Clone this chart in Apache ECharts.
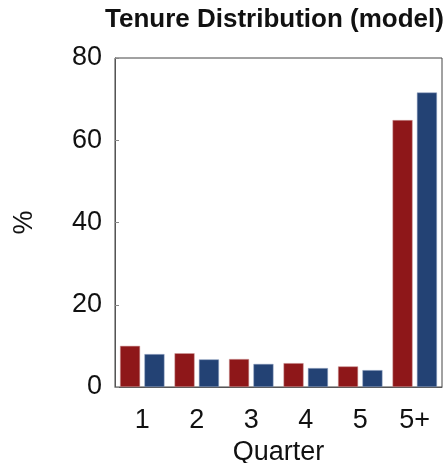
<!DOCTYPE html>
<html>
<head>
<meta charset="utf-8">
<script src="https://cdn.jsdelivr.net/npm/echarts@6/dist/echarts.min.js"></script>
<style>
html,body{margin:0;padding:0;background:#fff;}
#c{width:445px;height:463px;}
</style>
</head>
<body>
<div id="c"></div>
<script>
const categories = ['1', '2', '3', '4', '5', '5+'];
const seriesA = [10.0, 8.2, 6.8, 5.8, 5.0, 64.9];
const seriesB = [8.0, 6.7, 5.6, 4.6, 4.1, 71.6];
const yTicks = [0, 20, 40, 60, 80];

const FONT = 'Liberation Sans';
const chart = echarts.init(document.getElementById('c'));
chart.setOption({
  animation: false,
  backgroundColor: '#fff',
  title: {
    text: 'Tenure Distribution (model)',
    left: 100,
    top: 2,
    textStyle: { fontFamily: FONT, fontSize: 26, fontWeight: 'bold', color: '#111' }
  },
  grid: {
    left: 115, right: 3, top: 58, bottom: 76,
    outerBoundsMode: 'none',
    containLabel: false,
    show: true, borderColor: '#444', borderWidth: 1, backgroundColor: 'transparent'
  },
  xAxis: {
    type: 'category',
    data: categories,
    name: 'Quarter',
    nameLocation: 'middle',
    nameGap: 51,
    nameTextStyle: { fontFamily: FONT, fontSize: 27, color: '#111' },
    axisLine: { lineStyle: { color: '#555', width: 1 } },
    axisTick: { alignWithLabel: true, length: 10, lineStyle: { color: '#888' } },
    axisLabel: { fontFamily: FONT, fontSize: 27, color: '#111', margin: 20 }
  },
  yAxis: {
    type: 'value',
    min: yTicks[0],
    max: yTicks[yTicks.length - 1],
    interval: 20,
    name: '%',
    nameLocation: 'middle',
    nameGap: 77,
    nameTextStyle: { fontFamily: FONT, fontSize: 27, color: '#111' },
    axisLine: { show: true, lineStyle: { color: '#555', width: 1 } },
    axisTick: { show: true, inside: true, length: 4, lineStyle: { color: '#888' } },
    splitLine: { show: false },
    axisLabel: { fontFamily: FONT, fontSize: 27, color: '#111', margin: 13 }
  },
  series: [
    {
      name: 'Observed',
      type: 'bar',
      data: seriesA,
      barWidth: 20,
      barGap: '22%',
      itemStyle: { color: '#8E1719', borderColor: '#c99', borderWidth: 0.5 }
    },
    {
      name: 'Model',
      type: 'bar',
      data: seriesB,
      barWidth: 20,
      itemStyle: { color: '#234274', borderColor: '#8fa0c0', borderWidth: 0.5 }
    }
  ]
});
</script>
</body>
</html>
